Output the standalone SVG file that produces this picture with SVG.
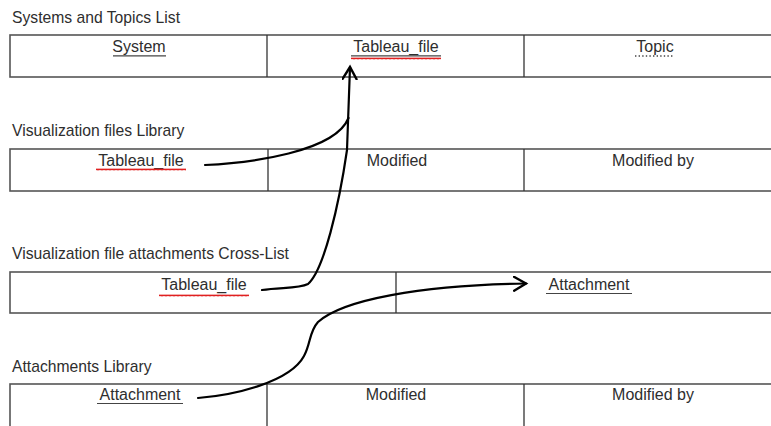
<svg xmlns="http://www.w3.org/2000/svg" width="771" height="426" viewBox="0 0 771 426">
  <style>
    .title { font-family: "Liberation Sans", Arial, sans-serif; font-size: 15.7px; fill: #2e2e2e; }
    .cell { font-family: "Liberation Sans", Arial, sans-serif; font-size: 16px; fill: #2e2e2e; text-anchor: middle; }
    .box { fill: #fff; stroke: #555; stroke-width: 1.6; }
    .div { stroke: #333; stroke-width: 1.3; }
    .ul { stroke: #444; stroke-width: 1.2; }
    .dots { stroke: #444; stroke-width: 1.6; stroke-dasharray: 1.4 2.2; }
    .arrow { fill: none; stroke: #000; stroke-width: 2.2; stroke-linecap: round; }
  </style>
  <defs>
    <pattern id="wavy" width="4" height="3" patternUnits="userSpaceOnUse">
      <path d="M0,2.4 L1,0.6 L2,2.4 L3,0.6 L4,2.4" fill="none" stroke="#e02020" stroke-width="1"/>
    </pattern>
    <marker id="head" markerUnits="userSpaceOnUse" markerWidth="20" markerHeight="20" refX="13" refY="8" orient="auto">
      <polyline points="1,1 13,8 1,15" fill="none" stroke="#000" stroke-width="2.4" stroke-linecap="round" stroke-linejoin="miter"/>
    </marker>
  </defs>
  <rect width="771" height="426" fill="#fff"/>

  <g id="systems-topics-list">
    <text class="title" x="12" y="23">Systems and Topics List</text>
    <rect class="box" x="10" y="35" width="800" height="42"/>
    <line class="div" x1="267" y1="35" x2="267" y2="77"/>
    <line class="div" x1="524" y1="35" x2="524" y2="77"/>
    <text class="cell" x="139" y="52">System</text>
    <line class="ul" x1="113" y1="55.8" x2="166" y2="55.8"/>
    <text class="cell" x="396" y="52">Tableau_file</text>
    <line class="ul" x1="351" y1="55.8" x2="441" y2="55.8"/>
    <rect x="351" y="57" width="90" height="3" fill="url(#wavy)"/>
    <text class="cell" x="655" y="52">Topic</text>
    <line class="dots" x1="635" y1="56" x2="674" y2="56"/>
  </g>

  <g id="visualization-files-library">
    <text class="title" x="12" y="136">Visualization files Library</text>
    <rect class="box" x="10" y="149" width="800" height="42"/>
    <line class="div" x1="268" y1="149" x2="268" y2="191"/>
    <line class="div" x1="524" y1="149" x2="524" y2="191"/>
    <text class="cell" x="141" y="166">Tableau_file</text>
    <rect x="96" y="168" width="90" height="3" fill="url(#wavy)"/>
    <text class="cell" x="397" y="166">Modified</text>
    <text class="cell" x="653" y="166">Modified by</text>
  </g>

  <g id="visualization-file-attachments-cross-list">
    <text class="title" x="12" y="259">Visualization file attachments Cross-List</text>
    <rect class="box" x="10" y="272" width="800" height="41"/>
    <line class="div" x1="396" y1="272" x2="396" y2="313"/>
    <text class="cell" x="204" y="290">Tableau_file</text>
    <rect x="159" y="294" width="90" height="3" fill="url(#wavy)"/>
    <text class="cell" x="589" y="290">Attachment</text>
    <line class="ul" x1="546" y1="293.5" x2="632" y2="293.5"/>
  </g>

  <g id="attachments-library">
    <text class="title" x="12" y="372">Attachments Library</text>
    <rect class="box" x="10" y="384" width="800" height="60"/>
    <line class="div" x1="267" y1="384" x2="267" y2="426"/>
    <line class="div" x1="524" y1="384" x2="524" y2="426"/>
    <text class="cell" x="140" y="400">Attachment</text>
    <line class="ul" x1="97" y1="403.5" x2="183" y2="403.5"/>
    <text class="cell" x="396" y="400">Modified</text>
    <text class="cell" x="653" y="400">Modified by</text>
  </g>

  <g id="connectors">
    <path class="arrow" d="M205,165 C250,163 335,152 348.5,118"/>
    <path class="arrow" d="M262,290 C280,287 298,289 308,284 C324,270 339,205 347,150 L350,67" marker-end="url(#head)"/>
    <path class="arrow" d="M198,398 C235,395 290,382 304,356 C311,343 309,332 318,322 C342,300 420,285 526,283.5" marker-end="url(#head)"/>
  </g>
</svg>
